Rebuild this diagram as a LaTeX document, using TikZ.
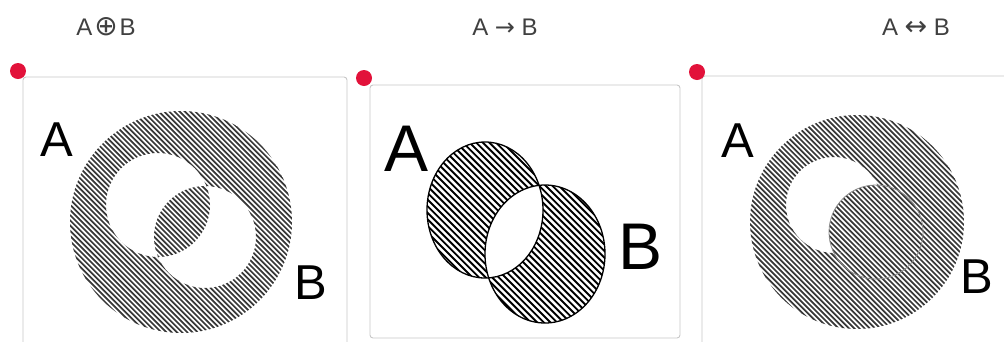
\documentclass[tikz,border=0pt]{standalone}
\usepackage{fontspec}
\setmainfont{Liberation Sans}
\newfontfamily\symfont{DejaVu Sans}
\definecolor{dotred}{RGB}{226,18,58}
\begin{document}
\begin{tikzpicture}[x=1pt,y=-1pt,
  frame/.style={draw=black!22,line width=0.9pt,rounded corners=3pt},
  reddot/.style={fill=dotred,draw=none},
  title/.style={inner sep=0pt,text=black!75,font=\fontsize{24}{26}\selectfont},
  biglabel/.style={inner sep=0pt,font=\fontsize{49}{52}\selectfont},
  hugelabel/.style={inner sep=0pt,font=\fontsize{66}{70}\selectfont},
  hatchA/.style={draw=black!78,line width=1.7pt},
  hatchB/.style={draw=black,line width=1.9pt},
  outline/.style={draw=black,line width=1.3pt}]
\useasboundingbox (0,0) rectangle (1004,341);

% ---------- Panel 1 : A xor B ----------
\draw[frame] (23,350) -- (23,77) -- (347,77) -- (347,350);
\fill[reddot] (18,71) circle[radius=8];
\node[title] (t1) at (106,27) {A\kern2pt{\symfont\fontsize{28}{28}\selectfont ⊕}\kern2pt B};
\begin{scope}[even odd rule]
  \clip (181,222) circle[radius=111]
        (158,205) circle[radius=52]
        (205,237) circle[radius=51];
  \foreach \i in {-260,-254.8,...,260}
    \draw[hatchA] (181+\i-130,222-130) -- (181+\i+130,222+130);
\end{scope}
\node[biglabel] (a1) at (57,140) {A};
\node[biglabel] (b1) at (311,283) {B};

% ---------- Panel 2 : A -> B ----------
\draw[frame] (370,85) rectangle (680,338);
\fill[reddot] (364,78) circle[radius=8];
\node[title] (t2) at (505,27) {A {\symfont →} B};
\begin{scope}[even odd rule]
  \clip (485,210) ellipse[x radius=58,y radius=68]
        (545,254) ellipse[x radius=60,y radius=69];
  \foreach \i in {-220,-213.4,...,220}
    \draw[hatchB] (515+\i-130,232-130) -- (515+\i+130,232+130);
\end{scope}
\draw[outline] (485,210) ellipse[x radius=58,y radius=68];
\draw[outline] (545,254) ellipse[x radius=60,y radius=69];
\node[hugelabel] (a2) at (407,149) {A};
\node[hugelabel] (b2) at (641,247) {B};

% ---------- Panel 3 : A <-> B ----------
\draw[frame] (702,350) -- (702,76) -- (1010,76);
\fill[reddot] (697,72) circle[radius=8];
\node[title] (t3) at (916,27) {A {\symfont\fontsize{27}{28}\selectfont ↔} B};
\begin{scope}[even odd rule]
  \clip (857,222) circle[radius=107]
        (834,205) circle[radius=48];
  \foreach \i in {-260,-254.8,...,260}
    \draw[hatchA] (857+\i-130,222-130) -- (857+\i+130,222+130);
\end{scope}
\begin{scope}
  \clip (834,205) circle[radius=48];
  \clip (876,232) circle[radius=47];
  \foreach \i in {-260,-254.8,...,260}
    \draw[hatchA] (857+\i-130,222-130) -- (857+\i+130,222+130);
\end{scope}
\draw[draw=black!45,line width=0.8pt] (876,232) circle[radius=47];
\node[biglabel] (a3) at (738,141) {A};
\node[biglabel] (b3) at (977,277) {B};
\end{tikzpicture}
\end{document}
